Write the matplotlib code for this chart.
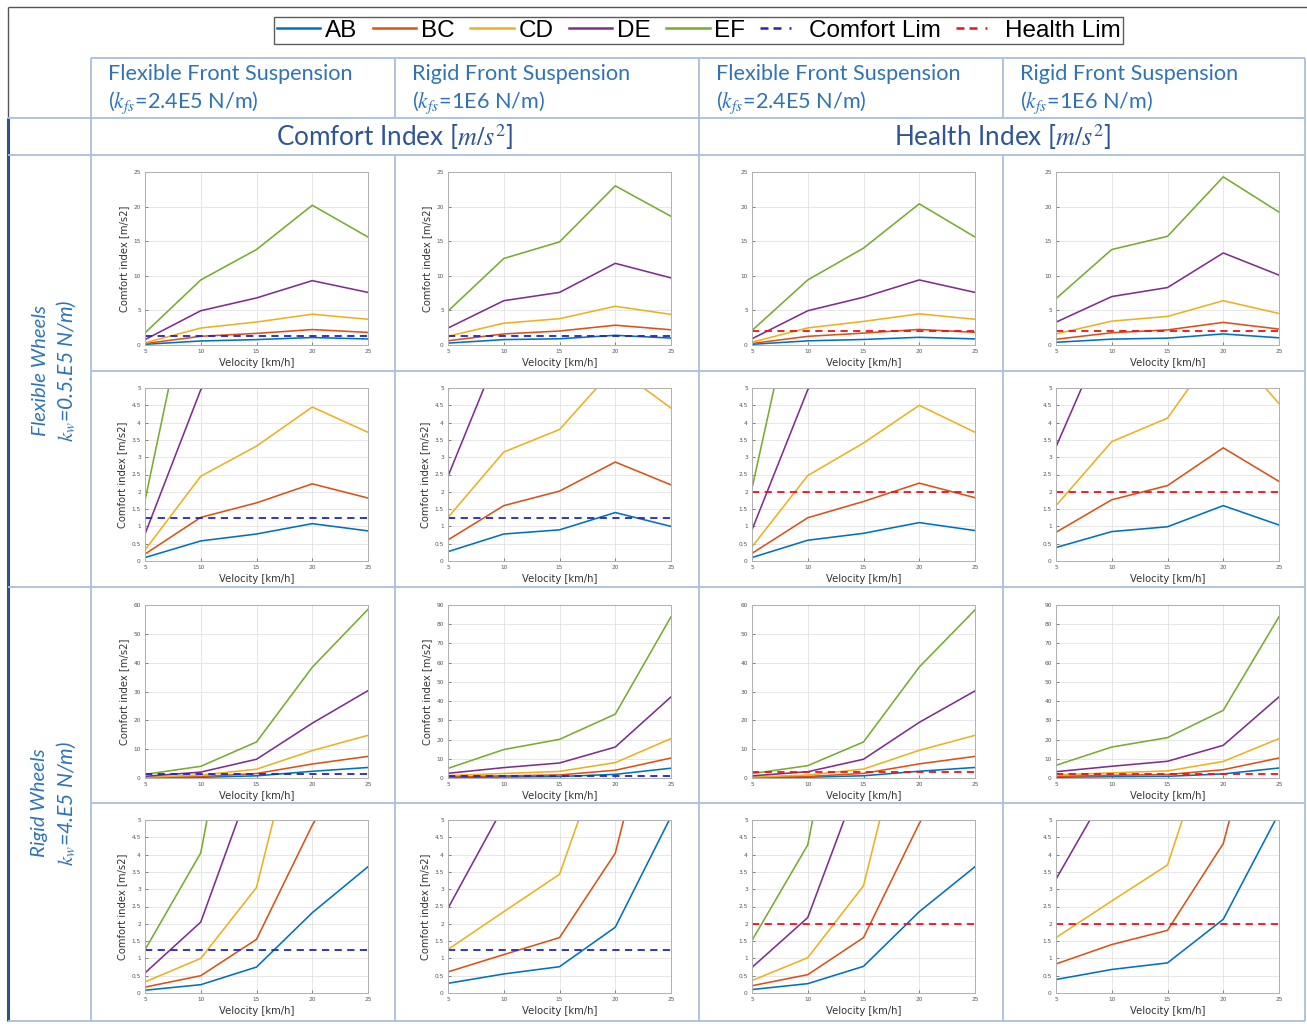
import matplotlib
matplotlib.use("Agg")
import matplotlib.pyplot as plt
from matplotlib.lines import Line2D
from matplotlib.ticker import MultipleLocator, FuncFormatter

# ---------------------------------------------------------------- data
velocity = [5, 10, 15, 20, 25]
segments = ["AB", "BC", "CD", "DE", "EF"]
segment_colors = ["#0072BD", "#D95319", "#EDB120", "#7E2F8E", "#77AC30"]

comfort_limit = 1.25
health_limit = 2.0

# flexible wheels (k_w = 0.5E5 N/m)
fw_ffs_comfort = {
    "AB": [0.10, 0.58, 0.78, 1.08, 0.87],
    "BC": [0.20, 1.26, 1.68, 2.23, 1.82],
    "CD": [0.32, 2.45, 3.32, 4.45, 3.72],
    "DE": [0.78, 4.95, 6.8, 9.3, 7.6],
    "EF": [1.75, 9.4, 13.8, 20.2, 15.6],
}
fw_rfs_comfort = {
    "AB": [0.27, 0.78, 0.90, 1.40, 1.00],
    "BC": [0.61, 1.60, 2.02, 2.86, 2.20],
    "CD": [1.26, 3.15, 3.80, 5.6, 4.42],
    "DE": [2.45, 6.4, 7.6, 11.8, 9.7],
    "EF": [4.9, 12.5, 14.9, 23.0, 18.6],
}
fw_ffs_health = {
    "AB": [0.10, 0.60, 0.80, 1.11, 0.88],
    "BC": [0.22, 1.25, 1.72, 2.25, 1.83],
    "CD": [0.41, 2.47, 3.41, 4.50, 3.72],
    "DE": [0.90, 4.95, 6.9, 9.4, 7.6],
    "EF": [2.1, 9.4, 14.0, 20.4, 15.6],
}
fw_rfs_health = {
    "AB": [0.39, 0.85, 0.99, 1.60, 1.04],
    "BC": [0.83, 1.77, 2.18, 3.27, 2.30],
    "CD": [1.60, 3.45, 4.13, 6.4, 4.55],
    "DE": [3.30, 7.0, 8.3, 13.3, 10.1],
    "EF": [6.7, 13.8, 15.7, 24.3, 19.2],
}
# rigid wheels (k_w = 4E5 N/m)
rw_ffs_comfort = {
    "AB": [0.08, 0.24, 0.75, 2.32, 3.65],
    "BC": [0.17, 0.50, 1.55, 4.85, 7.5],
    "CD": [0.32, 1.00, 3.05, 9.5, 14.8],
    "DE": [0.58, 2.05, 6.5, 19.0, 30.3],
    "EF": [1.25, 4.05, 12.5, 38.4, 58.5],
}
rw_rfs_comfort = {
    "AB": [0.28, 0.55, 0.76, 1.90, 5.1],
    "BC": [0.61, 1.11, 1.60, 4.04, 10.4],
    "CD": [1.26, 2.35, 3.43, 8.0, 20.5],
    "DE": [2.45, 5.4, 7.8, 16.1, 42.2],
    "EF": [5.0, 14.8, 20.1, 33.2, 83.9],
}
rw_ffs_health = {
    "AB": [0.10, 0.27, 0.77, 2.35, 3.65],
    "BC": [0.21, 0.53, 1.60, 4.9, 7.5],
    "CD": [0.36, 1.02, 3.10, 9.6, 14.8],
    "DE": [0.74, 2.18, 6.5, 19.3, 30.2],
    "EF": [1.52, 4.28, 12.5, 38.5, 58.3],
}
rw_rfs_health = {
    "AB": [0.39, 0.68, 0.87, 2.13, 5.2],
    "BC": [0.84, 1.40, 1.81, 4.32, 10.4],
    "CD": [1.60, 2.66, 3.70, 8.6, 20.5],
    "DE": [3.29, 6.1, 8.7, 17.0, 42.2],
    "EF": [6.6, 16.1, 21.0, 35.2, 83.9],
}

column_headers = [
    ("Flexible Front Suspension", r"($k_{fs}$=2.4E5 N/m)"),
    ("Rigid Front Suspension", r"($k_{fs}$=1E6 N/m)"),
    ("Flexible Front Suspension", r"($k_{fs}$=2.4E5 N/m)"),
    ("Rigid Front Suspension", r"($k_{fs}$=1E6 N/m)"),
]
index_headers = [r"Comfort Index [$m/s^2$]", r"Health Index [$m/s^2$]"]
row_headers = [
    ("Flexible Wheels", r"$k_w$=0.5.E5 N/m)"),
    ("Rigid Wheels", r"$k_w$=4.E5 N/m)"),
]

# ---------------------------------------------------------------- figure
W, H = 1307, 1029
plt.rcParams["mathtext.fontset"] = "stix"
fig = plt.figure(figsize=(W / 100, H / 100), dpi=100)

# background layer in pixel coordinates for the table frame
bg = fig.add_axes([0, 0, 1, 1])
bg.set_xlim(0, W)
bg.set_ylim(H, 0)
bg.axis("off")

grid_c = "#A9BFDD"
lw_t = 1.3


def hline(y, x0, x1, c=grid_c, lw=lw_t):
    bg.plot([x0, x1], [y, y], color=c, lw=lw, solid_capstyle="butt")


def vline(x, y0, y1, c=grid_c, lw=lw_t):
    bg.plot([x, x], [y0, y1], color=c, lw=lw, solid_capstyle="butt")


col_x = [91, 395, 699, 1003, 1305]

# outer frame
hline(7, 8, W, c="#555555", lw=1.0)
vline(8, 7, 118, c="#555555", lw=1.0)
vline(8, 118, 1021, c="#2F4F8F", lw=2.2)
# header rows
hline(58, 91, 1305)
hline(118, 8, 1305)
hline(155, 8, 1305)
# full-height column dividers
for x in (91, 699, 1305):
    vline(x, 58, 1021)
# the index row spans two columns on each side, so these dividers skip it
for x in (395, 1003):
    vline(x, 58, 118)
    vline(x, 155, 1021)
# plot rows
hline(371, 91, 1305)
hline(587, 8, 1305)
hline(803, 91, 1305)
hline(1021, 8, 1305)

head_c = "#2E74B5"
for i, (l1, l2) in enumerate(column_headers):
    x = col_x[i] + 17
    bg.text(x, 74, l1, fontsize=15.6, family="Lato", color=head_c,
            ha="left", va="center", zorder=3)
    bg.text(x, 103, l2, fontsize=15.6, family="Lato", color=head_c,
            ha="left", va="center", zorder=3)

for i, t in enumerate(index_headers):
    bg.text(395 + 608 * i, 137, t, fontsize=18.8, family="Lato", color="#2F5597",
            ha="center", va="center", zorder=3)

for i, (l1, l2) in enumerate(row_headers):
    yc = 371 + 432 * i
    bg.text(40, yc, l1, fontsize=14.6, family="Lato", style="italic", color=head_c,
            rotation=90, ha="center", va="center")
    bg.text(66, yc, l2, fontsize=15.2, family="Lato", style="italic", color=head_c,
            rotation=90, ha="center", va="center")

# ---------------------------------------------------------------- panels
panels = [
    [fw_ffs_comfort, fw_rfs_comfort, fw_ffs_health, fw_rfs_health],
    [fw_ffs_comfort, fw_rfs_comfort, fw_ffs_health, fw_rfs_health],
    [rw_ffs_comfort, rw_rfs_comfort, rw_ffs_health, rw_rfs_health],
    [rw_ffs_comfort, rw_rfs_comfort, rw_ffs_health, rw_rfs_health],
]
y_limits = [
    [25, 25, 25, 25],
    [5, 5, 5, 5],
    [60, 90, 60, 90],
    [5, 5, 5, 5],
]
y_steps = [5, 0.5, 10, 0.5]

ax_left = [145, 448, 752, 1056]
ax_top = [172, 388, 605, 820]
ax_w, ax_h = 223, 173

fmt = FuncFormatter(lambda v, p: f"{v:g}")
comfort_c = "#2326B8"
health_c = "#E8141E"

for r in range(4):
    for c in range(4):
        data = panels[r][c]
        ax = fig.add_axes([ax_left[c] / W, 1 - (ax_top[r] + ax_h) / H,
                           ax_w / W, ax_h / H])
        for name, col in zip(segments, segment_colors):
            ax.plot(velocity, data[name], color=col, lw=1.15)
        if c < 2:
            ax.plot([velocity[0], velocity[-1]], [comfort_limit] * 2,
                    color=comfort_c, lw=1.3, ls=(0, (4, 3)))
            ax.set_ylabel("Comfort index [m/s2]", fontsize=7.2,
                          color="#333333", labelpad=3)
        else:
            ax.plot([velocity[0], velocity[-1]], [health_limit] * 2,
                    color=health_c, lw=1.3, ls=(0, (4, 3)))
        ax.set_xlim(5, 25)
        ax.set_ylim(0, y_limits[r][c])
        ax.xaxis.set_major_locator(MultipleLocator(5))
        ax.yaxis.set_major_locator(MultipleLocator(y_steps[r]))
        ax.xaxis.set_major_formatter(fmt)
        ax.yaxis.set_major_formatter(fmt)
        ax.grid(True, color="#E3E3E3", lw=0.6)
        ax.set_axisbelow(True)
        ax.tick_params(labelsize=4.2, colors="#555555", length=2,
                       direction="in", pad=3, width=0.5)
        for s in ax.spines.values():
            s.set_color("#B0B0B0")
            s.set_linewidth(0.7)
        ax.set_xlabel("Velocity [km/h]", fontsize=7.2, color="#333333",
                      labelpad=2.5)

# ---------------------------------------------------------------- legend
limit_dash = (0, (3.2, 2.0, 3.2, 3.2, 0.8, 10))
handles = [Line2D([], [], color=col, lw=1.8) for col in segment_colors]
handles.append(Line2D([], [], color=comfort_c, lw=1.8, ls=limit_dash))
handles.append(Line2D([], [], color=health_c, lw=1.8, ls=limit_dash))
labels = segments + ["Comfort Lim", "Health Lim"]
leg = fig.legend(handles, labels, loc="center", ncol=7,
                 bbox_to_anchor=(698.5 / W, 1 - 30.5 / H),
                 prop={"family": "Liberation Sans", "size": 17.5},
                 frameon=True, fancybox=False,
                 edgecolor="#333333", handlelength=1.8, handletextpad=0.2,
                 columnspacing=0.62, borderpad=0.12, borderaxespad=0)
leg.get_frame().set_linewidth(1.0)

fig.savefig("out.png", dpi=100)
